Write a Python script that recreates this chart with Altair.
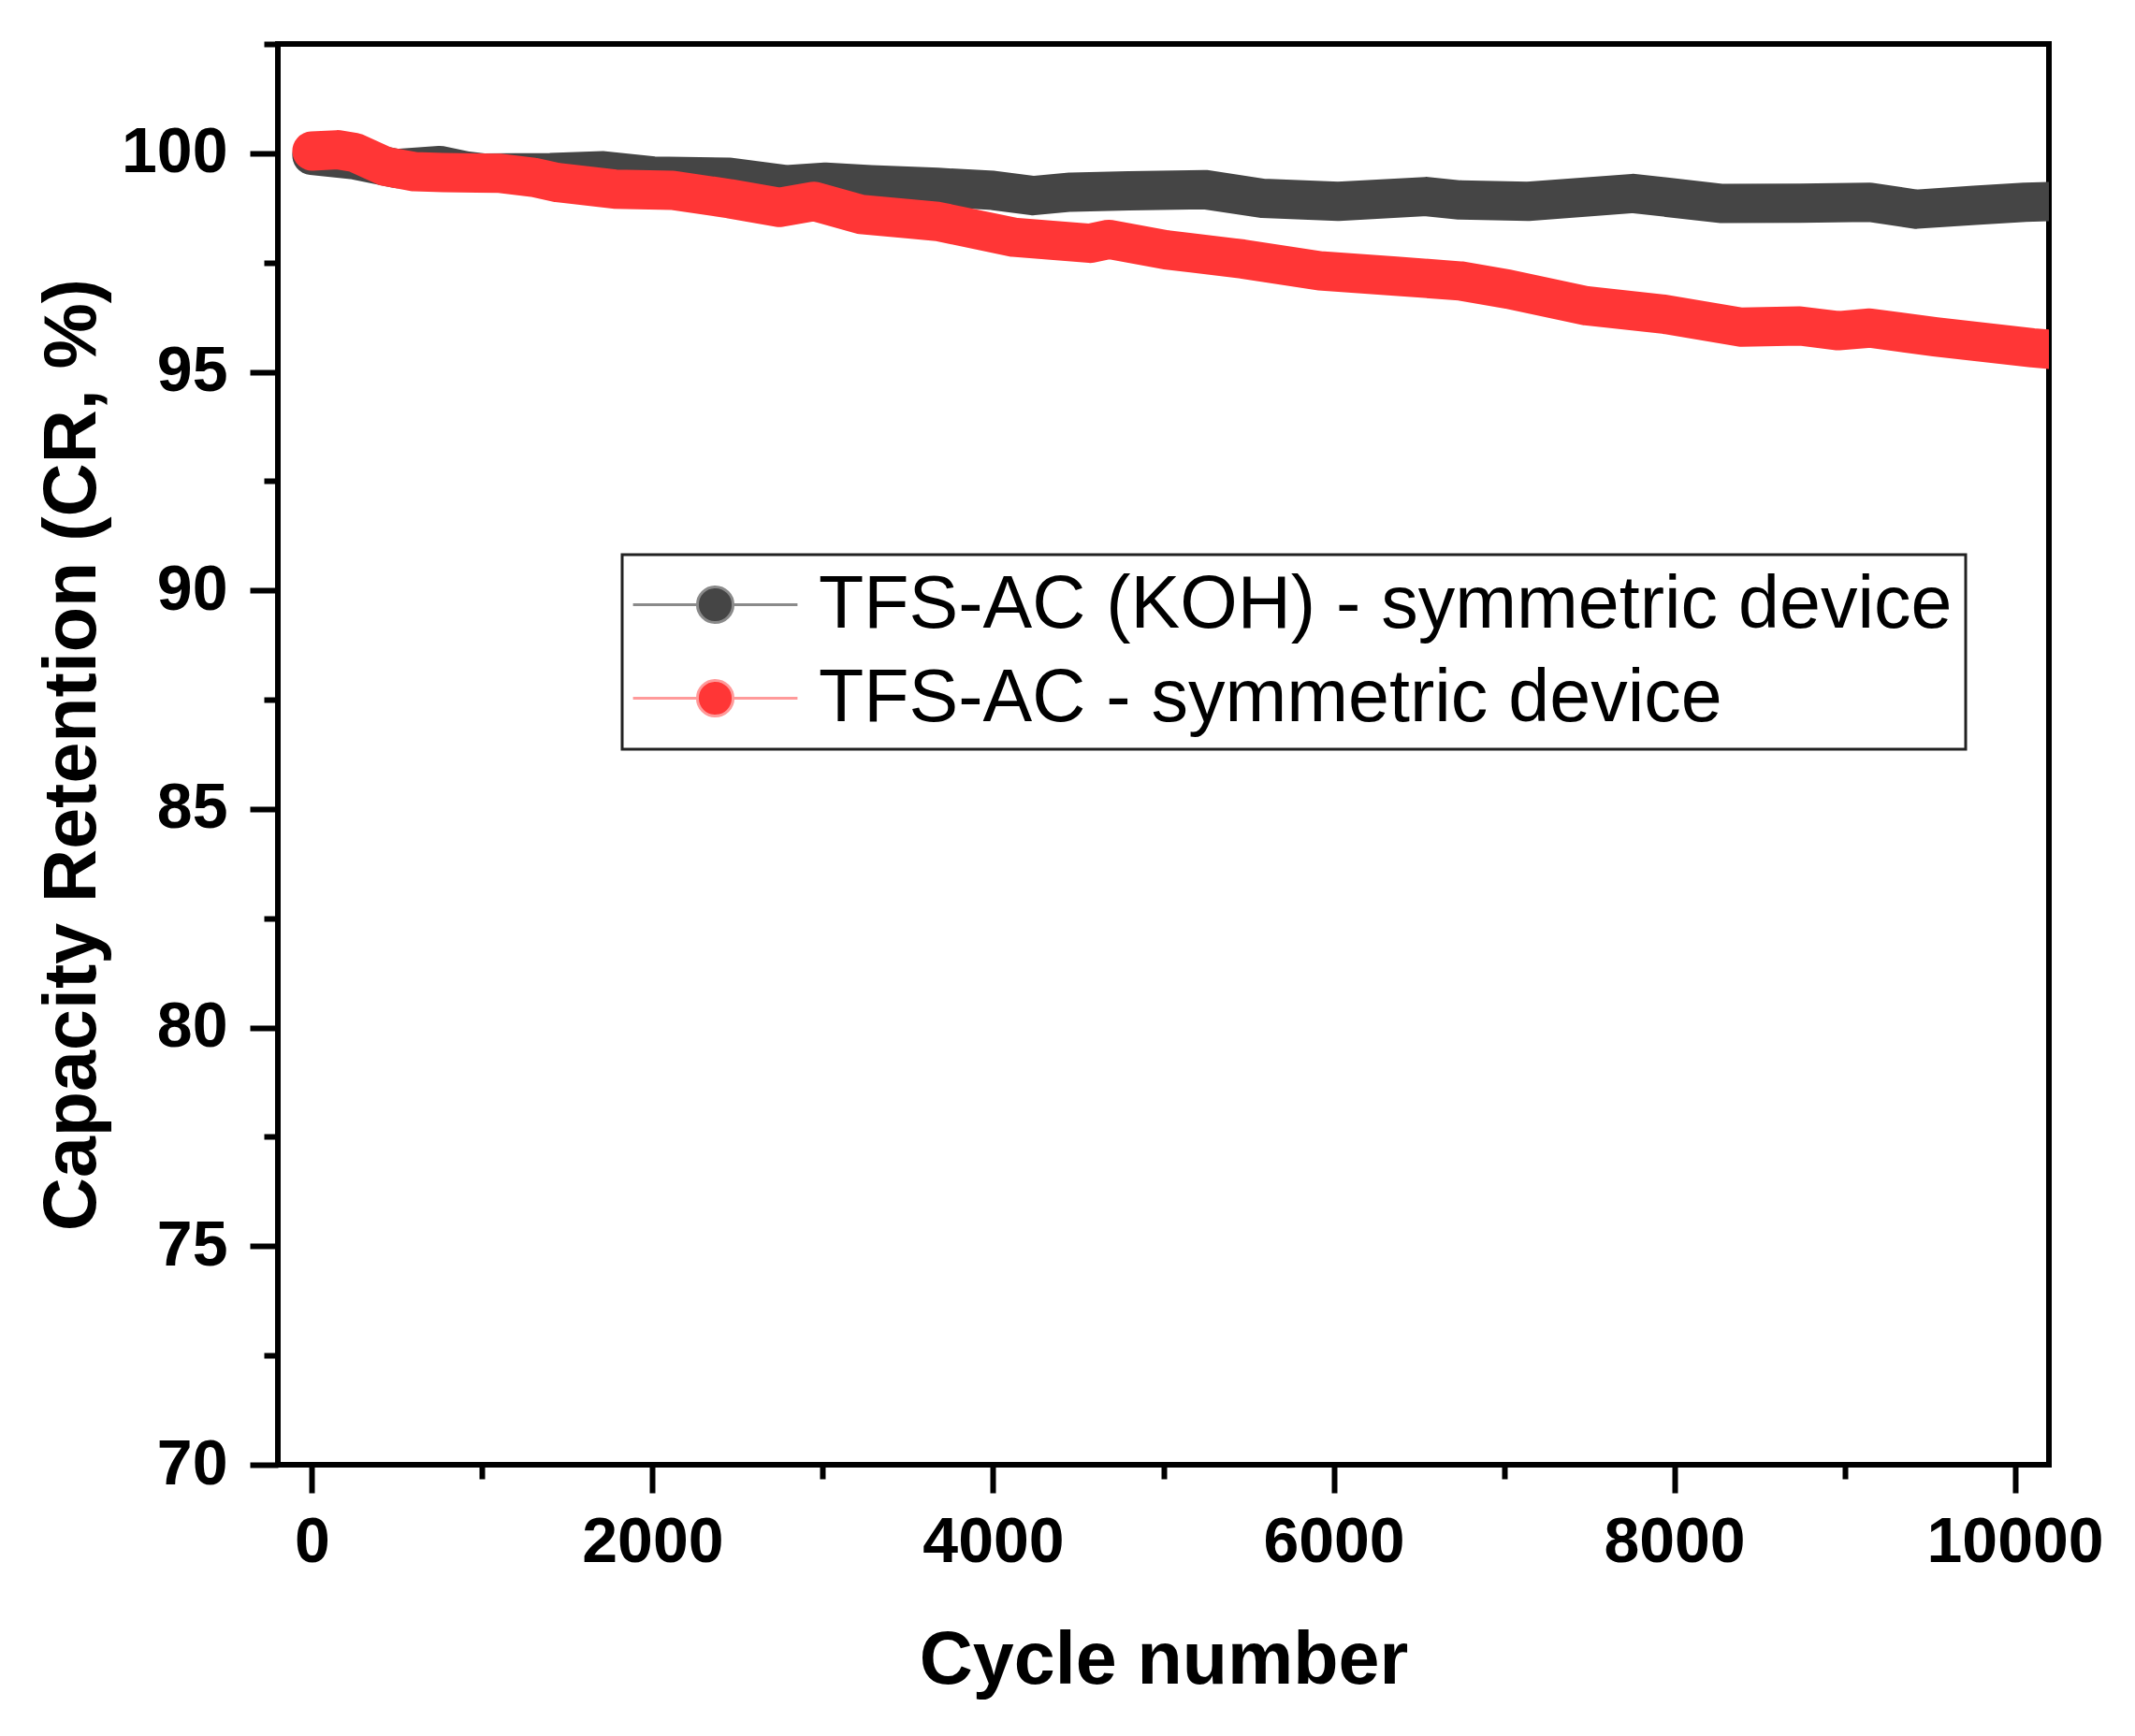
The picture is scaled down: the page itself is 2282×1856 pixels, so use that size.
import altair as alt
import pandas as pd

# ---- data ----
series_names = ["TFS-AC (KOH) - symmetric device", "TFS-AC - symmetric device"]

koh_cycles = [0, 250, 500, 750, 900, 1000, 1400, 1712, 2003, 2454, 2790, 3015, 3279, 3674,
              4000, 4235, 4455, 4796, 5241, 5581, 6027, 6543, 6741, 7142, 7758, 8282,
              8737, 9148, 9422, 9763, 10059, 10250]
koh_cr = [99.95, 99.85, 99.65, 99.72, 99.60, 99.55, 99.56, 99.60, 99.48, 99.45, 99.28, 99.34,
          99.28, 99.22, 99.15, 99.03, 99.11, 99.14, 99.17, 98.97, 98.90, 99.01, 98.93,
          98.90, 99.08, 98.85, 98.86, 98.88, 98.72, 98.81, 98.88, 98.90]

tfs_cycles = [0, 150, 250, 431, 600, 772, 1107, 1300, 1442, 1777, 2118, 2454, 2745,
              2949, 3224, 3674, 4120, 4570, 4680, 5016, 5466, 5917, 6364, 6741, 7027,
              7484, 7939, 8395, 8737, 8963, 9148, 9533, 10104, 10250]
tfs_cr = [100.05, 100.08, 100.02, 99.70, 99.58, 99.56, 99.54, 99.45, 99.33, 99.18,
          99.15, 98.96, 98.76, 98.90, 98.60, 98.44, 98.08, 97.94, 98.03, 97.79, 97.58,
          97.31, 97.19, 97.08, 96.89, 96.51, 96.32, 96.02, 96.05, 95.94, 96.00, 95.80,
          95.55, 95.50]

x_major = [0, 2000, 4000, 6000, 8000, 10000]
x_minor = [1000, 3000, 5000, 7000, 9000]
y_major = [70, 75, 80, 85, 90, 95, 100]
y_minor = [72.5, 77.5, 82.5, 87.5, 92.5, 97.5, 102.5]

band_colors = ["#454545", "#ff3636"]
legend_line_colors = ["#8a8a8a", "#ff9a9a"]

df = pd.DataFrame({
    "cycle": koh_cycles + tfs_cycles,
    "cr": koh_cr + tfs_cr,
    "series": [series_names[0]] * len(koh_cycles) + [series_names[1]] * len(tfs_cycles),
})

FONT = "Liberation Sans"
xscale = alt.Scale(domain=[-200, 10200], nice=False, zero=False)
yscale = alt.Scale(domain=[70, 102.5], nice=False, zero=False)

# legend symbol: thin line with a dot in the middle (path units = sqrt(size)/2 px)
sym_path = ("M-5.3,0L-1.15,0M1.15,0L5.3,0"
            "M1.15,0A1.15,1.15,0,1,1,-1.15,0A1.15,1.15,0,1,1,1.15,0Z")

legend = alt.Legend(
    title=None, orient="none", legendX=368, legendY=546,
    symbolType=sym_path, symbolSize=1100, symbolStrokeWidth=3,
    symbolOffset=46, labelOffset=71,
    labelFont=FONT, labelFontSize=79, labelColor="black", labelLimit=3000,
    strokeColor="#222222", fillColor="white", padding=14, rowPadding=20,
)

base = alt.Chart(df)

points = base.mark_point(filled=True, size=1100, strokeWidth=3, opacity=1, clip=True).encode(
    x=alt.X("cycle:Q", scale=xscale,
            axis=alt.Axis(values=x_minor, orient="bottom", tickSize=15, tickWidth=6,
                          tickColor="black", labels=False, domain=False, grid=False,
                          title=None)),
    y=alt.Y("cr:Q", scale=yscale,
            axis=alt.Axis(values=y_minor, orient="left", tickSize=15, tickWidth=6,
                          tickColor="black", labels=False, domain=False, grid=False,
                          title=None)),
    fill=alt.Fill("series:N", scale=alt.Scale(domain=series_names, range=band_colors),
                  legend=legend),
    stroke=alt.Stroke("series:N", scale=alt.Scale(domain=series_names, range=legend_line_colors),
                      legend=legend),
)

line = base.mark_line(strokeWidth=42, strokeCap="round", strokeJoin="round", clip=True).encode(
    x=alt.X("cycle:Q", scale=xscale,
            axis=alt.Axis(values=x_major, orient="bottom", tickSize=30, tickWidth=6,
                          tickColor="black", domain=False, grid=False,
                          labelFont=FONT, labelFontSize=68, labelFontWeight="bold",
                          labelColor="black", labelPadding=19, labelFlush=False,
                          labelOverlap=False, labelLimit=1000, format="d",
                          title="Cycle number", titleFont=FONT, titleFontSize=79,
                          titleFontWeight="bold", titleColor="black",
                          titleBaseline="alphabetic", titleY=233)),
    y=alt.Y("cr:Q", scale=yscale,
            axis=alt.Axis(values=y_major, orient="left", tickSize=30, tickWidth=6,
                          tickColor="black", domain=False, grid=False,
                          labelFont=FONT, labelFontSize=68, labelFontWeight="bold",
                          labelColor="black", labelPadding=24, labelFlush=False,
                          labelOverlap=False, labelLimit=1000,
                          title="Capacity Retention (CR, %)", titleFont=FONT,
                          titleFontSize=79, titleFontWeight="bold", titleColor="black",
                          titleBaseline="alphabetic", titleX=-196)),
    color=alt.Color("series:N", scale=alt.Scale(domain=series_names, range=band_colors),
                    legend=None),
)

chart = (
    alt.layer(points, line)
    .resolve_axis(x="independent", y="independent")
    .properties(
        width=1893, height=1519,
        autosize=alt.AutoSizeParams(type="none"),
        padding={"left": 289, "top": 39, "right": 84, "bottom": 282},
        background="white",
    )
    .configure_view(stroke="black", strokeWidth=6)
    .configure_legend(strokeWidth=3)
)

chart.save("out.html", embed_options={"renderer": "svg", "actions": False})
